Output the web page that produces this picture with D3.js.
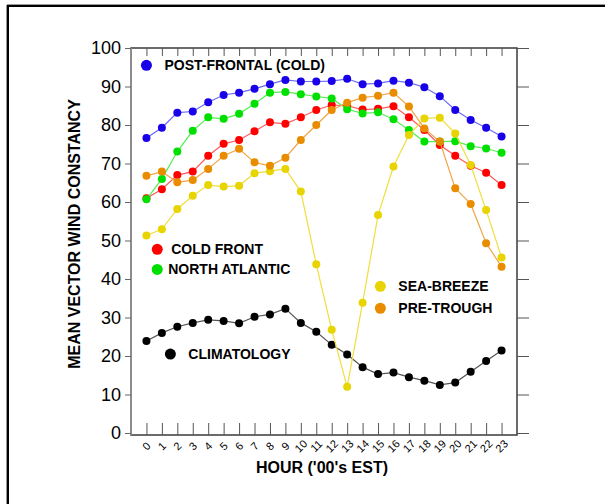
<!DOCTYPE html>
<html lang="en">
<head>
  <title>Mean vector wind constancy</title>
  <script src="https://cdnjs.cloudflare.com/ajax/libs/d3/7.8.5/d3.min.js"></script>
  <style>
    body { margin: 0; background: #fff; }
    text { font-family: "Liberation Sans", Arial, sans-serif; }
  </style>
</head>
<body>
  <script>

    // hourly values (hour 0..23)
    var hours = d3.range(0, 24);
    var yTicks = [0, 10, 20, 30, 40, 50, 60, 70, 80, 90, 100];

    var postFrontal = [76.6, 79.3, 83.2, 83.5, 85.9, 87.8, 88.4, 89.4, 90.6, 91.7, 91.3, 91.3,
                       91.4, 92.0, 90.6, 90.8, 91.5, 91.0, 89.8, 87.5, 83.9, 81.3, 79.3, 77.0];
    var coldFront   = [61.0, 63.3, 67.0, 67.9, 72.0, 75.1, 76.1, 78.4, 80.7, 80.3, 82.0, 83.9,
                       85.2, 85.0, 84.0, 84.2, 84.9, 82.0, 78.7, 74.8, 72.0, 69.4, 67.6, 64.4];
    var northAtl    = [60.7, 66.0, 73.1, 78.5, 82.0, 81.6, 82.9, 85.5, 88.4, 88.6, 88.0, 87.4,
                       86.9, 84.1, 83.0, 83.3, 81.5, 78.7, 75.7, 75.7, 75.8, 74.5, 73.9, 72.8];
    var seaBreeze   = [51.3, 52.9, 58.2, 61.6, 64.4, 64.0, 64.2, 67.5, 68.0, 68.6, 62.7, 43.8,
                       26.8, 12.0, 33.8, 56.6, 69.2, 77.4, 81.7, 81.9, 77.8, 69.6, 57.9, 45.6];
    var preTrough   = [66.8, 67.9, 65.1, 65.7, 68.6, 72.0, 73.8, 70.3, 69.4, 71.5, 76.1, 80.0,
                       83.9, 85.8, 87.1, 87.6, 88.4, 84.8, 79.1, 75.7, 63.6, 59.5, 49.3, 43.2];
    var climatology = [23.9, 26.0, 27.6, 28.6, 29.4, 29.1, 28.5, 30.2, 30.8, 32.3, 28.6, 26.3,
                       22.9, 20.4, 17.1, 15.3, 15.7, 14.5, 13.6, 12.5, 13.1, 15.9, 18.7, 21.4];

    var series = [
      {name: "CLIMATOLOGY",         values: climatology, dot: "#000000", line: "#555555"},
      {name: "POST-FRONTAL (COLD)", values: postFrontal, dot: "#1800e8", line: "#6a6af5"},
      {name: "COLD FRONT",          values: coldFront,   dot: "#ff0000", line: "#ff5a5a"},
      {name: "NORTH ATLANTIC",      values: northAtl,    dot: "#00e000", line: "#55ee55"},
      {name: "SEA-BREEZE",          values: seaBreeze,   dot: "#e8d400", line: "#f0de3c"},
      {name: "PRE-TROUGH",          values: preTrough,   dot: "#e98c00", line: "#f0a648"}
    ];

    // legend entries: label, colour, anchor (hour, value) in data space
    var legend = [
      {name: "POST-FRONTAL (COLD)", dot: "#1800e8", hx: 0.0,  vy: 95.5, gap: 18},
      {name: "COLD FRONT",          dot: "#ff0000", hx: 0.7,  vy: 47.7, gap: 14},
      {name: "NORTH ATLANTIC",      dot: "#00e000", hx: 0.7,  vy: 42.5, gap: 11},
      {name: "SEA-BREEZE",          dot: "#e8d400", hx: 15.15, vy: 38.1, gap: 18},
      {name: "PRE-TROUGH",          dot: "#e98c00", hx: 15.15, vy: 32.4, gap: 18},
      {name: "CLIMATOLOGY",         dot: "#000000", hx: 1.55, vy: 20.5, gap: 18}
    ];

    var W = 605, H = 504;
    var pLeft = 131, pRight = 517, pTop = 48, pBottom = 435;

    var svg = d3.select("body").append("svg")
      .attr("width", W)
      .attr("height", H);

    // outer frame (only top and left edges visible)
    svg.append("line").attr("x1", 7).attr("y1", 4.5).attr("x2", W).attr("y2", 4.5)
      .attr("stroke", "#999").attr("stroke-width", 1);
    svg.append("line").attr("x1", 7).attr("y1", 6).attr("x2", W).attr("y2", 6)
      .attr("stroke", "#000").attr("stroke-width", 2);
    svg.append("line").attr("x1", 6.5).attr("y1", 5).attr("x2", 6.5).attr("y2", H)
      .attr("stroke", "#999").attr("stroke-width", 1);
    svg.append("line").attr("x1", 8).attr("y1", 5).attr("x2", 8).attr("y2", H)
      .attr("stroke", "#000").attr("stroke-width", 2);

    var x = d3.scaleLinear().domain([-1, 24]).range([pLeft, pRight]);
    var y = d3.scaleLinear().domain([0, 100]).range([433, pTop]);

    // plot box
    svg.append("rect")
      .attr("x", pLeft).attr("y", pTop)
      .attr("width", pRight - pLeft).attr("height", pBottom - pTop)
      .attr("fill", "none").attr("stroke", "#3a3a3a").attr("stroke-width", 1.5);
    svg.append("line").attr("x1", pLeft).attr("y1", pTop).attr("x2", pLeft).attr("y2", pBottom)
      .attr("stroke", "#8c8c8c").attr("stroke-width", 2);

    // y axis, ticks outward on the left
    var yAxis = svg.append("g")
      .attr("transform", "translate(" + pLeft + ",0)")
      .call(d3.axisLeft(y).tickValues(yTicks).tickSize(6).tickPadding(4));
    yAxis.select(".domain").remove();
    yAxis.selectAll("line").attr("stroke", "#666");
    yAxis.selectAll("text")
      .attr("font-size", 18)
      .attr("fill", "#000")
      .style("font-family", "'Liberation Sans', Arial, sans-serif");

    // right side inner ticks
    var yAxisR = svg.append("g")
      .attr("transform", "translate(" + pRight + ",0)")
      .call(d3.axisLeft(y).tickValues(yTicks).tickSize(-12).tickFormat(""));
    yAxisR.select(".domain").remove();
    yAxisR.selectAll("line").attr("stroke", "#555");

    // bottom ticks inward
    var xAxis = svg.append("g")
      .attr("transform", "translate(0," + pBottom + ")")
      .call(d3.axisBottom(x).tickValues(hours).tickSize(-12).tickFormat(""));
    xAxis.select(".domain").remove();
    xAxis.selectAll("line").attr("stroke", "#555");

    // top ticks inward
    var xAxisT = svg.append("g")
      .attr("transform", "translate(0," + pTop + ")")
      .call(d3.axisTop(x).tickValues(hours).tickSize(-8).tickFormat(""));
    xAxisT.select(".domain").remove();
    xAxisT.selectAll("line").attr("stroke", "#555");

    // rotated hour labels
    svg.append("g").selectAll("text")
      .data(hours)
      .join("text")
      .attr("transform", function(d) { return "translate(" + x(d) + ",446) rotate(-45)"; })
      .attr("text-anchor", "middle")
      .attr("dominant-baseline", "central")
      .attr("font-size", 11)
      .attr("fill", "#000")
      .text(function(d) { return d; });

    // axis titles
    svg.append("text")
      .attr("x", 322).attr("y", 473)
      .attr("text-anchor", "middle")
      .attr("font-size", 16).attr("font-weight", "bold")
      .text("HOUR ('00's EST)");

    svg.append("text")
      .attr("transform", "translate(80,234) rotate(-90)")
      .attr("text-anchor", "middle")
      .attr("font-size", 16).attr("font-weight", "bold")
      .text("MEAN VECTOR WIND CONSTANCY");

    // series
    var line = d3.line()
      .x(function(d, i) { return x(hours[i]); })
      .y(function(d) { return y(d); });

    var g = svg.append("g").selectAll("g")
      .data(series)
      .join("g");

    g.append("path")
      .attr("d", function(s) { return line(s.values); })
      .attr("fill", "none")
      .attr("stroke", function(s) { return s.line; })
      .attr("stroke-width", 1.2);

    g.selectAll("circle")
      .data(function(s) { return s.values.map(function(v, i) { return {v: v, i: i, c: s.dot}; }); })
      .join("circle")
      .attr("cx", function(d) { return x(hours[d.i]); })
      .attr("cy", function(d) { return y(d.v); })
      .attr("r", 4)
      .attr("fill", function(d) { return d.c; });

    // legend
    var lg = svg.append("g").selectAll("g")
      .data(legend)
      .join("g")
      .attr("transform", function(d) { return "translate(" + x(d.hx) + "," + y(d.vy) + ")"; });

    lg.append("circle")
      .attr("r", 5.5)
      .attr("fill", function(d) { return d.dot; });

    lg.append("text")
      .attr("x", function(d) { return d.gap; })
      .attr("dominant-baseline", "central")
      .attr("font-size", 14).attr("font-weight", "bold")
      .attr("fill", "#000")
      .text(function(d) { return d.name; });

  </script>
</body>
</html>
